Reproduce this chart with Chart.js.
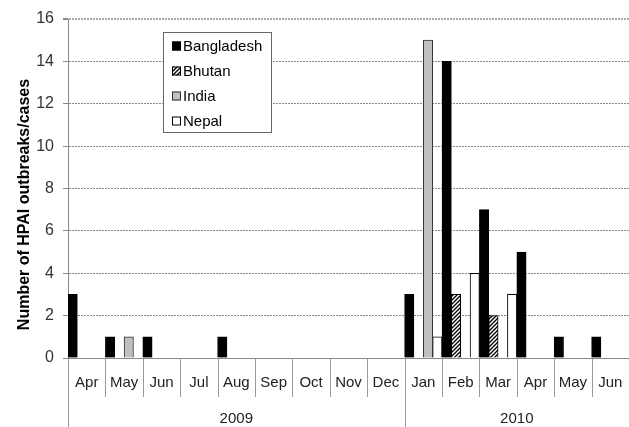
<!DOCTYPE html>
<html lang="en">
  <head>
    <meta charset="UTF-8" />
    <title>HPAI outbreaks/cases in South Asia, 2009-2010</title>
    <script src="https://cdn.jsdelivr.net/npm/chart.js"></script>
    <style>
      html, body { margin: 0; padding: 0; background: #fff; }
    </style>
  </head>
  <body>
    <canvas id="hpaiChart" width="629" height="427"></canvas>
    <script>
      // chart data
      const months = ["Apr", "May", "Jun", "Jul", "Aug", "Sep", "Oct", "Nov", "Dec",
                      "Jan", "Feb", "Mar", "Apr", "May", "Jun"];
      const years = ["2009", "2010"];
      const monthsPerYear = [9, 6];
      const bangladesh = [3, 1, 1, null, 1, null, null, null, null, 3, 14, 7, 5, 1, 1];
      const bhutan = [null, null, null, null, null, null, null, null, null, null, 3, 2, null, null, null];
      const india = [null, 1, null, null, null, null, null, null, null, 15, null, null, null, null, null];
      const nepal = [null, null, null, null, null, null, null, null, null, 1, 4, 3, null, null, null];
      const yTitle = "Number of HPAI outbreaks/cases";

      const FONT = "'Liberation Sans', Arial, sans-serif";
      const canvas = document.getElementById("hpaiChart");
      const ctx = canvas.getContext("2d");

      // diagonal hatching for Bhutan
      function makeHatch() {
        const c = document.createElement("canvas");
        c.width = 4;
        c.height = 4;
        const g = c.getContext("2d");
        g.fillStyle = "#fff";
        g.fillRect(0, 0, 4, 4);
        g.strokeStyle = "#000";
        g.lineWidth = 1.3;
        g.beginPath();
        g.moveTo(0, 4); g.lineTo(4, 0);
        g.moveTo(-1, 1); g.lineTo(1, -1);
        g.moveTo(3, 5); g.lineTo(5, 3);
        g.stroke();
        return ctx.createPattern(c, "repeat");
      }
      const hatch = makeHatch();

      // month separators, year row and rotated y title
      const axisDecor = {
        id: "axisDecor",
        afterDraw(chart) {
          const { ctx, chartArea, scales } = chart;
          const x = scales.x;
          const half = (x.getPixelForValue(1) - x.getPixelForValue(0)) / 2;
          const edge = (i) => x.getPixelForValue(i) - half;
          const bottom = chartArea.bottom;
          ctx.save();
          ctx.strokeStyle = "#999";
          ctx.lineWidth = 1;
          for (let i = 1; i < months.length; i++) {
            const px = Math.round(edge(i)) + 0.5;
            ctx.beginPath();
            ctx.moveTo(px, bottom);
            ctx.lineTo(px, bottom + 39);
            ctx.stroke();
          }
          // year boundaries + labels
          ctx.fillStyle = "#222";
          ctx.font = "15px " + FONT;
          ctx.textAlign = "center";
          ctx.textBaseline = "middle";
          let start = 0;
          years.forEach((yr, k) => {
            const end = start + monthsPerYear[k];
            const px = Math.round(edge(start)) + 0.5;
            ctx.beginPath();
            ctx.moveTo(px, bottom);
            ctx.lineTo(px, chart.height);
            ctx.stroke();
            ctx.fillText(yr, (edge(start) + edge(end)) / 2, bottom + 61);
            start = end;
          });
          // y title
          ctx.translate(25, (chartArea.top + chartArea.bottom) / 2 + 16);
          ctx.rotate(-Math.PI / 2);
          ctx.fillStyle = "#000";
          ctx.font = "bold 16px " + FONT;
          ctx.fillText(yTitle, 0, 0);
          ctx.restore();
        },
      };

      // boxed legend inside the plot
      const legendBox = {
        id: "legendBox",
        afterDraw(chart) {
          const { ctx } = chart;
          const left = 163, top = 32, w = 108, h = 100;
          ctx.save();
          ctx.fillStyle = "#fff";
          ctx.fillRect(left, top, w, h);
          ctx.strokeStyle = "#666";
          ctx.lineWidth = 1;
          ctx.strokeRect(left + 0.5, top + 0.5, w, h);
          ctx.font = "15px " + FONT;
          ctx.textBaseline = "middle";
          chart.data.datasets.forEach((ds, i) => {
            const cy = top + 14 + i * 25;
            ctx.fillStyle = ds.backgroundColor;
            ctx.fillRect(left + 9, cy - 4.5, 9, 9);
            ctx.strokeStyle = ds.borderColor;
            ctx.strokeRect(left + 9.5, cy - 4, 8, 8);
            ctx.fillStyle = "#000";
            ctx.fillText(ds.label, left + 20, cy + 1);
          });
          ctx.restore();
        },
      };

      new Chart(ctx, {
        type: "bar",
        data: {
          labels: months,
          datasets: [
            { label: "Bangladesh", data: bangladesh, backgroundColor: "#000", borderColor: "#000" },
            { label: "Bhutan", data: bhutan, backgroundColor: hatch, borderColor: "#000" },
            { label: "India", data: india, backgroundColor: "#c0c0c0", borderColor: "#333" },
            { label: "Nepal", data: nepal, backgroundColor: "#fff", borderColor: "#000" },
          ],
        },
        options: {
          responsive: false,
          animation: false,
          datasets: {
            bar: { borderWidth: 1, barPercentage: 1, categoryPercentage: 1 },
          },
          layout: { padding: { left: 8, top: 19, right: 0, bottom: 0 } },
          plugins: {
            legend: { display: false },
            tooltip: { enabled: false },
          },
          scales: {
            x: {
              grid: { display: false, drawTicks: true, tickLength: 16 },
              border: { color: "#888" },
              ticks: {
                color: "#222",
                font: { family: FONT, size: 15 },
                padding: 0,
                maxRotation: 0,
                autoSkip: false,
              },
              afterFit(scale) { scale.height = 69; },
            },
            y: {
              min: 0,
              max: 16,
              ticks: {
                stepSize: 2,
                color: "#333",
                font: { family: FONT, size: 16 },
                padding: 9,
              },
              grid: {
                color: (c) => c.tick.value === 0 ? "rgba(0,0,0,0)" : c.tick.value === 16 ? "#aaa" : "#888",
                lineWidth: (c) => c.tick.value === 16 ? 2 : 1,
                tickColor: "#888",
                tickLength: 5,
              },
              border: { color: "#888", dash: [2, 1] },
              afterFit(scale) { scale.width = 60; },
            },
          },
        },
        plugins: [axisDecor, legendBox],
      });
    </script>
  </body>
</html>
